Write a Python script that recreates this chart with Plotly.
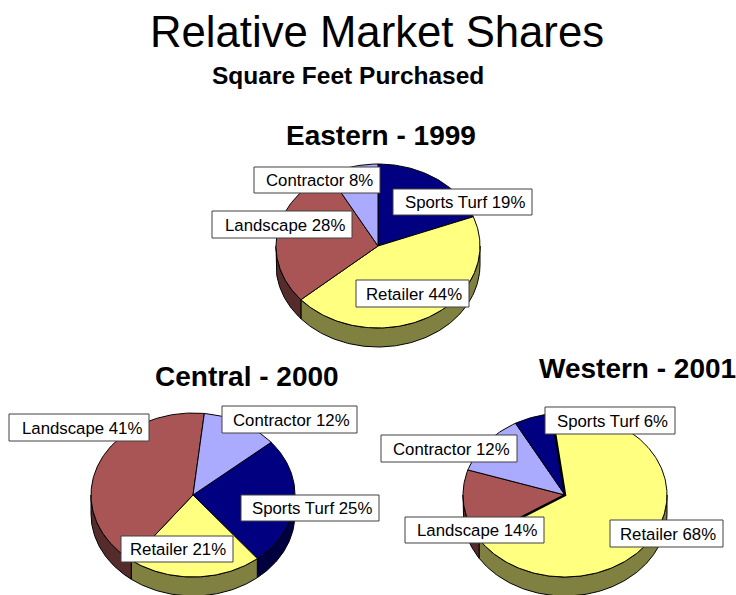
import math
import plotly.graph_objects as go

# ---- data ----
eastern_labels = ["Sports Turf", "Retailer", "Landscape", "Contractor"]
eastern_values = [19, 44, 28, 8]
central_labels = ["Sports Turf", "Retailer", "Landscape", "Contractor"]
central_values = [25, 21, 41, 12]
western_labels = ["Retailer", "Landscape", "Contractor", "Sports Turf"]
western_values = [68, 14, 12, 6]

# ---- style and layout ----
W, H = 736, 595
FONT = "Liberation Sans, Arial, sans-serif"
TOP = {"Sports Turf": "#000080", "Retailer": "#FFFF80",
       "Landscape": "#AA5555", "Contractor": "#AAAAFF"}
SIDE = {"Sports Turf": "#000040", "Retailer": "#808040",
        "Landscape": "#552B2B", "Contractor": "#555580"}
RX, RY, DEPTH = 102, 82, 19

PIES = [
    dict(labels=eastern_labels, values=eastern_values, cx=378, cy=246, start=0, heavy=None,
         boxes=[(393, 189, 532, 215), (356, 280, 469, 307), (212, 211, 352, 238), (254, 167, 380, 193)]),
    dict(labels=central_labels, values=central_values, cx=193, cy=495, start=50, heavy=None,
         boxes=[(241, 495, 379, 521), (121, 536, 233, 562), (9, 414, 149, 441), (222, 406, 357, 433)]),
    dict(labels=western_labels, values=western_values, cx=565, cy=495, start=352.6, heavy="Retailer",
         boxes=[(610, 520, 723, 547), (405, 517, 544, 543), (381, 435, 517, 462), (545, 407, 675, 434)]),
]

TITLES = [
    ("Relative Market Shares", 377, 31, 43.7, False),
    ("Square Feet Purchased", 348, 75, 24.5, True),
    ("Eastern - 1999", 381, 135, 28, True),
    ("Central - 2000", 247, 376, 28, True),
    ("Western - 2001", 637, 368, 28, True),
]


def pt(p, deg, dy=0):
    a = math.radians(deg)
    return p["cx"] + RX * math.sin(a), p["cy"] - RY * math.cos(a) + dy


def arc(p, a0, a1, dy=0):
    n = max(2, int(abs(a1 - a0)) + 2)
    return [pt(p, a0 + (a1 - a0) * i / (n - 1), dy) for i in range(n)]


def polygon(points, color):
    xs = [q[0] for q in points] + [points[0][0]]
    ys = [q[1] for q in points] + [points[0][1]]
    return go.Scatter(x=xs, y=ys, mode="lines", fill="toself", fillcolor=color,
                      line=dict(color="#000000", width=1), hoverinfo="skip",
                      showlegend=False)


fig = go.Figure()
annotations = []
shapes = []

for p in PIES:
    total = sum(p["values"])
    spans = []
    a = p["start"]
    for lab, v in zip(p["labels"], p["values"]):
        b = a + 360 * v / total
        spans.append((lab, a, b))
        a = b
    # side walls: the front half of the rim only
    for lab, a0, b0 in spans:
        for k in (0, 360):
            lo, hi = max(a0, 90 + k), min(b0, 270 + k)
            if lo < hi:
                fig.add_trace(polygon(arc(p, lo, hi) + arc(p, hi, lo, DEPTH), SIDE[lab]))
    # top faces
    for lab, a0, b0 in spans:
        fig.add_trace(polygon([(p["cx"], p["cy"])] + arc(p, a0, b0), TOP[lab]))
    # heavier radial edges of the pulled-out slice
    for lab, a0, b0 in spans:
        if lab == p["heavy"]:
            e0, e1 = pt(p, a0), pt(p, b0)
            fig.add_trace(go.Scatter(
                x=[e0[0], p["cx"], e1[0]], y=[e0[1], p["cy"], e1[1]], mode="lines",
                line=dict(color="#000000", width=2.5), hoverinfo="skip", showlegend=False))
    # data labels: box as a shape, text as an annotation on top of it
    for lab, v, (x0, y0, x1, y1) in zip(p["labels"], p["values"], p["boxes"]):
        shapes.append(dict(type="rect", xref="x", yref="y", x0=x0, y0=y0, x1=x1, y1=y1,
                           layer="above", fillcolor="#FFFFFF",
                           line=dict(color="#404040", width=1)))
        annotations.append(dict(
            x=x1 - 6, y=(y0 + y1) / 2 + 0.8, xref="x", yref="y", xanchor="right", yanchor="middle",
            text=f"{lab} {v}%", showarrow=False, borderpad=0,
            font=dict(family=FONT, size=16.8, color="#000000")))

for text, x, y, size, bold in TITLES:
    annotations.append(dict(
        x=x, y=y, xref="x", yref="y", xanchor="center", yanchor="middle",
        text=f"<b>{text}</b>" if bold else text, showarrow=False,
        font=dict(family=FONT, size=size, color="#000000")))

fig.update_layout(
    width=W, height=H, margin=dict(l=0, r=0, t=0, b=0),
    paper_bgcolor="#FFFFFF", plot_bgcolor="#FFFFFF", showlegend=False,
    xaxis=dict(range=[0, W], visible=False, fixedrange=True),
    yaxis=dict(range=[H, 0], visible=False, fixedrange=True),
    annotations=annotations, shapes=shapes,
)
fig.write_html(
    "out.html", config={"displayModeBar": False},
    post_script="document.body.style.margin='0';document.documentElement.style.overflow='hidden';",
)
